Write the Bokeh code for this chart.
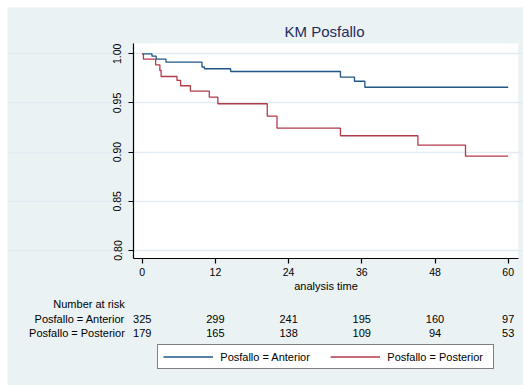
from bokeh.plotting import figure
from bokeh.models import (FixedTicker, Label, LabelSet, ColumnDataSource,
                          Legend, LegendItem, Range1d, BoxAnnotation)
from bokeh.core.properties import value
from bokeh.embed import file_html
from bokeh.resources import INLINE

# ---------------- data ----------------
title_text = "KM Posfallo"
x_label = "analysis time"
group_names = ["Posfallo = Anterior", "Posfallo = Posterior"]

ant_time = [0, 1.6, 2.3, 3.9, 9.8, 10.2, 14.5, 32.5, 34.8, 36.5, 60]
ant_surv = [1.0, 0.9976, 0.9945, 0.9915, 0.9866, 0.9848, 0.982, 0.9762, 0.9721, 0.966, 0.966]

pos_time = [0, 0.2, 2.2, 2.9, 3.1, 5.7, 6.3, 7.9, 11.0, 12.4, 20.5, 22.1, 32.5, 45.2, 53.0, 60]
pos_surv = [1.0, 0.9945, 0.9888, 0.983, 0.9769, 0.9729, 0.9675, 0.962, 0.9559, 0.9492,
            0.9366, 0.9244, 0.9167, 0.9071, 0.8959, 0.8959]

risk_title = "Number at risk"
risk_times = [0, 12, 24, 36, 48, 60]
risk_ant = [325, 299, 241, 195, 160, 97]
risk_pos = [179, 165, 138, 109, 94, 53]

x_ticks = [0, 12, 24, 36, 48, 60]
y_ticks = [0.80, 0.85, 0.90, 0.95, 1.00]
y_tick_labels = ["0.80", "0.85", "0.90", "0.95", "1.00"]

# ---------------- styles / geometry ----------------
FONT = "Liberation Sans"
BLUE = "#1F5687"
RED = "#B33A4A"
PANEL = "#EAF2F3"
GRID = "#E2ECF2"
TITLE_COLOR = "#1E2D5C"

MARGIN = 7                 # white border round the panel (page pixels)
PAGE_W, PAGE_H = 523, 385
X_PX0, X_PXU = 141.7, 6.1  # page x of t=0, pixels per month
Y_PX1, Y_PXU = 53.3, 983.5  # page y of S=1, pixels per unit of S


def dx(px):
    return (px - X_PX0) / X_PXU


def dy(py):
    return 1 - (py - Y_PX1) / Y_PXU


# plot-area (white box) edges in data units
PL, PR = dx(133), dx(517.7)
PB, PT = dy(257.7), dy(43)

p = figure(width=PAGE_W - MARGIN, height=PAGE_H - MARGIN, margin=(MARGIN, 0, 0, MARGIN),
           output_backend="svg", toolbar_location=None,
           x_range=Range1d(dx(MARGIN), dx(PAGE_W)), y_range=Range1d(dy(PAGE_H), dy(MARGIN)),
           min_border=0, background_fill_color=PANEL, border_fill_color=PANEL,
           outline_line_color=None, title=None)

# white plot area
p.add_layout(BoxAnnotation(left=PL, right=PR, bottom=PB, top=PT, fill_color="white",
                           fill_alpha=1.0, line_color=None, level="image"))

# axes
for ax in (p.xaxis[0], p.yaxis[0]):
    ax.axis_line_color = "black"
    ax.axis_line_width = 1.2
    ax.major_tick_line_color = "black"
    ax.major_tick_line_width = 1.2
    ax.major_tick_out = 5
    ax.major_tick_in = 0
    ax.minor_tick_line_color = None
    ax.major_label_text_font = FONT
    ax.major_label_text_font_size = "10.5px"
    ax.major_label_text_color = "black"

p.xaxis.fixed_location = PB
p.xaxis.bounds = (PL, PR)
p.xaxis.ticker = FixedTicker(ticks=x_ticks)
p.xaxis.major_label_overrides = {t: str(t) for t in x_ticks}
p.xaxis.major_label_standoff = 5
p.xaxis.axis_label = x_label
p.xaxis.axis_label_text_font = FONT
p.xaxis.axis_label_text_font_size = "11px"
p.xaxis.axis_label_text_font_style = "normal"
p.xaxis.axis_label_text_color = "black"
p.xaxis.axis_label_standoff = 0

p.yaxis.fixed_location = PL
p.yaxis.bounds = (PB, PT)
p.yaxis.ticker = FixedTicker(ticks=y_ticks)
p.yaxis.major_label_overrides = dict(zip(y_ticks, y_tick_labels))
p.yaxis.major_label_orientation = "vertical"
p.yaxis.major_label_standoff = 7

p.xgrid.visible = False
p.ygrid.ticker = FixedTicker(ticks=y_ticks)
p.ygrid.bounds = (PL, PR)
p.ygrid.grid_line_color = GRID
p.ygrid.grid_line_width = 1.5

# curves
r1 = p.step(ant_time, ant_surv, mode="after", line_color=BLUE, line_width=1.3)
r2 = p.step(pos_time, pos_surv, mode="after", line_color=RED, line_width=1.3)

# title (y = vertical centre of the capitals)
p.add_layout(Label(x=dx(324), y=dy(31.4), text=title_text, text_align="center",
                   text_baseline="middle", text_font=FONT, text_font_size="15px",
                   text_color=TITLE_COLOR))

# number at risk table
LABEL_RIGHT = dx(124.3)
p.add_layout(Label(x=LABEL_RIGHT, y=dy(303.2), text=risk_title, text_align="right",
                   text_baseline="middle", text_font=FONT, text_font_size="11px",
                   text_color="black"))
row_y = [dy(318.5), dy(332.5)]
for name, yy in zip(group_names, row_y):
    p.add_layout(Label(x=LABEL_RIGHT, y=yy, text=name, text_align="right",
                       text_baseline="middle", text_font=FONT, text_font_size="11px",
                       text_color="black"))

src = ColumnDataSource(dict(
    x=risk_times + risk_times,
    y=[row_y[0]] * len(risk_times) + [row_y[1]] * len(risk_times),
    text=[str(v) for v in risk_ant] + [str(v) for v in risk_pos],
))
p.add_layout(LabelSet(x="x", y="y", text="text", source=src, text_align="center",
                      text_baseline="middle", text_font=value(FONT),
                      text_font_size=value("11px"), text_color="black"))

# legend (location in pixels from the canvas' bottom-left corner)
legend = Legend(items=[LegendItem(label=group_names[0], renderers=[r1]),
                       LegendItem(label=group_names[1], renderers=[r2])],
                orientation="horizontal",
                location=(157.3 - MARGIN, PAGE_H - 369.3),
                padding=5, spacing=9, glyph_width=50, glyph_height=13,
                label_height=13, label_width=101, label_standoff=7, margin=0,
                border_line_color="black", border_line_width=1,
                background_fill_color="white", background_fill_alpha=1.0,
                label_text_font=FONT, label_text_font_size="11px",
                label_text_color="black")
p.add_layout(legend)

open("out.html", "w").write(file_html(p, INLINE))
